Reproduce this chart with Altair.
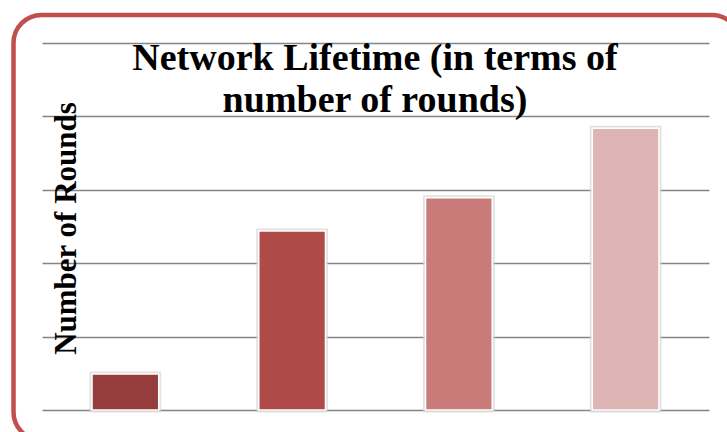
import altair as alt
import pandas as pd

categories = ["Protocol 1", "Protocol 2", "Protocol 3", "Protocol 4"]
rounds = [490, 2440, 2890, 3840]
bar_colors = ["#953C3C", "#B04A48", "#C97B7A", "#DFB4B4"]
title_lines = ["Network Lifetime (in terms of", "number of rounds)"]
y_title = "Number of Rounds"

df = pd.DataFrame({"cat": categories, "rounds": rounds, "color": bar_colors})

W, H = 667, 367
SERIF = "Liberation Serif"

x_enc = alt.X("cat:N", sort=categories,
              scale=alt.Scale(paddingInner=0.6, paddingOuter=0.3),
              axis=alt.Axis(title=None, labels=False, ticks=False, domain=False, grid=False))
y_enc = alt.Y("rounds:Q",
              scale=alt.Scale(domain=[0, 5000], nice=False),
              axis=alt.Axis(title=y_title, values=[0, 1000, 2000, 3000, 4000, 5000],
                            labels=False, ticks=False, domain=False, grid=True,
                            gridColor="#858585", gridWidth=1.6,
                            titleFont=SERIF, titleFontSize=31, titleFontWeight="bold",
                            titleColor="#000000", titleAngle=270, titleAlign="center",
                            titleBaseline="alphabetic", titleX=33, titleY=185))

base = alt.Chart(df)

shadow = base.mark_bar(stroke="#d6d6d6", strokeWidth=5, strokeOpacity=0.7).encode(
    x=x_enc, y=y_enc,
    color=alt.Color("color:N", scale=None),
)
bars = base.mark_bar(stroke="#ffffff", strokeWidth=1.5).encode(
    x=alt.X("cat:N", sort=categories),
    y=alt.Y("rounds:Q"),
    color=alt.Color("color:N", scale=None),
)

title1 = alt.Chart(pd.DataFrame({"t": [title_lines[0]]})).mark_text(
    font=SERIF, fontSize=38, fontWeight="bold", color="#000000",
    align="center", baseline="alphabetic"
).encode(text="t:N", x=alt.value(333), y=alt.value(27))
title2 = alt.Chart(pd.DataFrame({"t": [title_lines[1]]})).mark_text(
    font=SERIF, fontSize=38, fontWeight="bold", color="#000000",
    align="center", baseline="alphabetic"
).encode(text="t:N", x=alt.value(333), y=alt.value(69))

border = alt.Chart(pd.DataFrame({"b": [1]})).mark_rect(
    fill=None, stroke="#C0504D", strokeWidth=4.5, cornerRadius=28, clip=False
).encode(x=alt.value(-28.5), x2=alt.value(698), y=alt.value(-28), y2=alt.value(397))

chart = alt.layer(shadow, bars, title1, title2, border).properties(
    width=W, height=H,
    autosize=alt.AutoSizeParams(type="none"),
    padding={"left": 42, "top": 43, "right": 18, "bottom": 22},
    background="#ffffff",
).configure_view(stroke=None)

chart.save("out.html", embed_options={"renderer": "svg", "actions": False})
